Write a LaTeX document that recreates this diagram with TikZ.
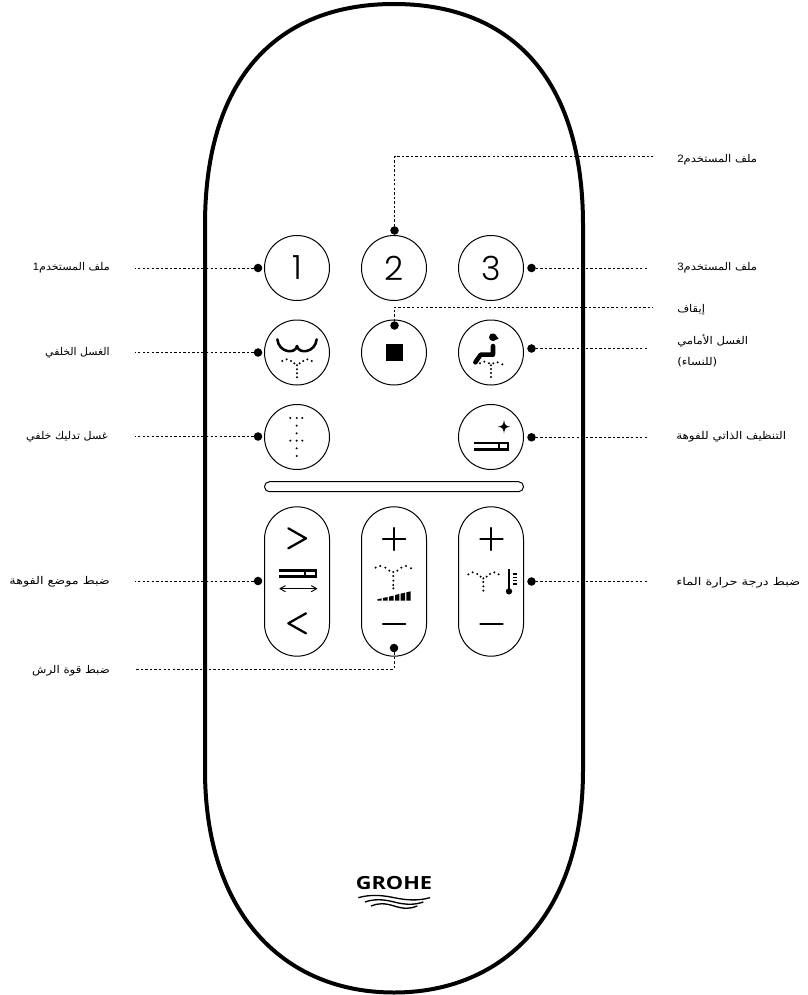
\documentclass[tikz,border=0pt]{standalone}
\usepackage{fontspec}
\TeXXeTstate=1
\newfontfamily\arabicfont[Script=Arabic]{DejaVu Sans}
\newfontfamily\latinf{Liberation Sans}
\newfontfamily\digitf{Poppins Light}
\newfontfamily\logof{Open Sans}
\newcommand{\ar}[2][1]{\scalebox{#1}[1]{\fontsize{8}{10}\arabicfont\beginR #2\endR}}
\tikzset{
  btn/.style={circle,draw=black,line width=.75pt,minimum size=48.75pt,inner sep=0pt,outer sep=0pt,font=\fontsize{25}{30}\digitf},
  pill/.style={rectangle,draw=black,line width=.75pt,rounded corners=24.3pt,minimum width=48.75pt,minimum height=112pt,inner sep=0pt,outer sep=0pt},
  pt/.style={circle,fill=black,minimum size=6.4pt,inner sep=0pt,outer sep=0pt},
  lead/.style={line width=.75pt,dash pattern=on 1.8pt off 1.6pt},
  lblL/.style={anchor=east,inner sep=0pt},
  lblR/.style={anchor=west,inner sep=0pt,align=left},
  zoomA/.style={shift={(230,220)},x=.25pt,y=-.25pt},
  zoomB/.style={shift={(230,470)},x=.25pt,y=-.25pt},
  zoomC/.style={shift={(340,860)},x=.25pt,y=-.25pt},
  ico/.style={line width=1.7pt,line cap=round,line join=round},
}
\newcommand{\dotsat}[1]{\foreach \p in {#1}{\fill[black] \p circle (3.3);}}
\begin{document}
\begin{tikzpicture}[x=.75pt,y=-.75pt]
\useasboundingbox (0,0) rectangle (807,995);
% body
\draw[line width=3pt,black] (394,4) .. controls (280,4) and (205,75) .. (205,225)
  -- (205,770) .. controls (205,915) and (285,992.5) .. (394,992.5)
  .. controls (503,992.5) and (583,915) .. (583,770)
  -- (583,225) .. controls (583,75) and (508,4) .. (394,4) -- cycle;
% buttons
\node[btn] (b1) at (297,268) {1};
\node[btn] (b2) at (394,268) {2};
\node[btn] (b3) at (491,268) {3};
\node[btn] (b4) at (297,352.5) {};
\node[btn] (b5) at (394,352.5) {};
\node[btn] (b6) at (491,352.5) {};
\node[btn] (b7) at (297,437) {};
\node[btn] (b8) at (491,437) {};
\node[rectangle,draw=black,line width=.75pt,rounded corners=3.7pt,minimum width=194.25pt,minimum height=7.5pt,inner sep=0pt] (bar) at (394,486.7) {};
\node[pill] (p1) at (297,581.5) {};
\node[pill] (p2) at (394,581.5) {};
\node[pill] (p3) at (491,581.5) {};
% anchor dots
\node[pt] (d1) at (258,268) {};
\node[pt] (d2) at (394.5,230.5) {};
\node[pt] (d3) at (531.5,268) {};
\node[pt] (d4) at (258,352.5) {};
\node[pt] (d5) at (394.5,325.5) {};
\node[pt] (d6) at (531.5,348.5) {};
\node[pt] (d7) at (258,436.5) {};
\node[pt] (d8) at (531.5,437.3) {};
\node[pt] (d9) at (258,581) {};
\node[pt] (d10) at (394,648) {};
\node[pt] (d11) at (531.5,581.5) {};
% free ends
\coordinate (e1) at (135,268);
\coordinate (e2a) at (394.5,156.5);
\coordinate (e2) at (653,156.5);
\coordinate (e3) at (648,268);
\coordinate (e4) at (135,352.5);
\coordinate (e5a) at (394.5,307);
\coordinate (e5) at (653,307);
\coordinate (e6) at (648,348.5);
\coordinate (e7) at (135,436.5);
\coordinate (e8) at (648,437.3);
\coordinate (e9) at (135,581);
\coordinate (e10a) at (394,669);
\coordinate (e10) at (135,669);
\coordinate (e11) at (648,581.5);
\draw[lead] (d1) -- (e1);
\draw[lead] (d2) -- (e2a) -- (e2);
\draw[lead] (d3) -- (e3);
\draw[lead] (d4) -- (e4);
\draw[lead] (d5) -- (e5a) -- (e5);
\draw[lead] (d6) -- (e6);
\draw[lead] (d7) -- (e7);
\draw[lead] (d8) -- (e8);
\draw[lead] (d9) -- (e9);
\draw[lead] (d10) -- (e10a) -- (e10);
\draw[lead] (d11) -- (e11);
% labels
\node[lblL] (l1) at (110,268) {\ar[1.04]{ملف المستخدم{\latinf 1}}};
\node[lblL] (l4) at (110,353) {\ar[1.02]{الغسل الخلفي}};
\node[lblL] (l7) at (108,437) {\ar[1.04]{غسل تدليك خلفي}};
\node[lblL] (l9) at (110,581.5) {\ar[1.2]{ضبط موضع الفوهة}};
\node[lblL] (l10) at (110,671) {\ar[1.1]{ضبط قوة الرش}};
\node[lblR] (l2) at (677,160) {\ar[1.08]{ملف المستخدم{\latinf 2}}};
\node[lblR] (l3) at (677,267.5) {\ar[1.08]{ملف المستخدم{\latinf 3}}};
\node[lblR] (l5) at (677,310) {\ar[1.08]{إيقاف}};
\node[lblR,font=\fontsize{8}{15.7}\selectfont] (l6) at (677,350.5) {\ar[1.09]{الغسل الأمامي}\\\ar[1.11]{(للنساء)}};
\node[lblR] (l8) at (676,437) {\ar[1.12]{التنظيف الذاتي للفوهة}};
\node[lblR] (l11) at (676,583) {\ar[1.22]{ضبط درجة حرارة الماء}};
% icons, row 2-3
\begin{scope}[zoomA]
\draw[ico,line width=1.9pt] (142,358) .. controls (146,398) and (196,404) .. (201,378) .. controls (206,404) and (256,398) .. (260,358);
\dotsat{(157,423),(170,418),(183,423),(193,430),(201,436),(209,430),(220,423),(232,418),(245,423),(201,448),(201,460),(201,472)}
\fill[black] (467,372) rectangle (518,423);
\fill[black] (789,352) ellipse (12 and 11);
\fill[black] (780,342) -- (792,341) -- (806,356) -- (790,362) -- cycle;
\draw[black,line width=3.4pt,line cap=round,line join=round] (789,378) -- (789,404) -- (752,404) -- (736,427);
\dotsat{(750,430),(763,425),(777,430),(783,436),(790,430),(803,427),(817,433),(783,447),(783,459),(783,471)}
\dotsat{(181,594),(200,594),(217,594),(200,617),(200,640),(181,662),(200,662),(217,662),(200,685),(200,708)}
\fill[black] (822,600) .. controls (824,615) and (827,618) .. (840,620) .. controls (827,622) and (824,625) .. (822,640) .. controls (820,625) and (817,622) .. (804,620) .. controls (817,618) and (820,615) .. (822,600) -- cycle;
\fill[black] (733,665) rectangle (838,692);
\fill[white] (733,673) rectangle (805,684);
\fill[white] (810,673) rectangle (832,684);
\end{scope}
% icons, pills
\begin{scope}[zoomB]
\draw[ico] (175,175) -- (228,205) -- (175,235);
\draw[ico] (228,430) -- (175,460) -- (228,490);
\fill[black] (148,298) rectangle (260,325);
\fill[white] (148,307) rectangle (222,316);
\fill[white] (228,307) rectangle (255,316);
\draw[black,line width=.7pt,line cap=round] (150,356) -- (260,356);
\draw[black,line width=.7pt,line cap=round,line join=round] (166,347) -- (150,356) -- (166,365);
\draw[black,line width=.7pt,line cap=round,line join=round] (244,347) -- (260,356) -- (244,365);
\draw[ico] (459,207) -- (526,207) (492,174) -- (492,240);
\draw[ico] (459,461) -- (526,461);
\dotsat{(437,293),(451,288),(466,293),(478,302),(490,306),(502,302),(514,293),(528,288),(543,295),(490,318),(490,332),(490,345),(490,355)}
\foreach \a/\b/\t/\u in {442/455/388/385,459/473/384/381,477/491/380/377,495/508/375/372,512/525/371/368,529/542/367/364}{\fill[black] (\a,392) -- (\a,\t) -- (\b,\u) -- (\b,392) -- cycle;}
\draw[ico] (751,207) -- (818,207) (784,174) -- (784,240);
\draw[ico] (751,461) -- (818,461);
\dotsat{(715,313),(728,307),(742,312),(752,320),(760,325),(770,320),(780,312),(793,307),(806,313),(760,336),(760,349),(760,362)}
\draw[black,line width=1.5pt] (837,298) -- (837,362);
\fill[black] (837,364) circle (9.5);
\foreach \yy in {312,322,332,342}{\draw[black,line width=1.1pt] (848,\yy) -- (862,\yy);}
\end{scope}
% logo
\node[inner sep=0pt,font=\fontsize{13.6}{16}\logof\bfseries] (logo) at (394,883.5) {\scalebox{1.2}[1]{GROHE}};
\begin{scope}[zoomC]
\foreach \xa/\xb/\yy in {55/270/113,75/250/126,93/232/138}{
  \draw[black,line width=1pt] (\xa,\yy) .. controls ({\xa+(\xb-\xa)*.15},\yy-9) and ({\xa+(\xb-\xa)*.3},\yy-9) .. ({\xa+(\xb-\xa)*.5},\yy) .. controls ({\xa+(\xb-\xa)*.7},\yy+9) and ({\xa+(\xb-\xa)*.85},\yy+9) .. (\xb,\yy);}
\end{scope}
\end{tikzpicture}
\end{document}
